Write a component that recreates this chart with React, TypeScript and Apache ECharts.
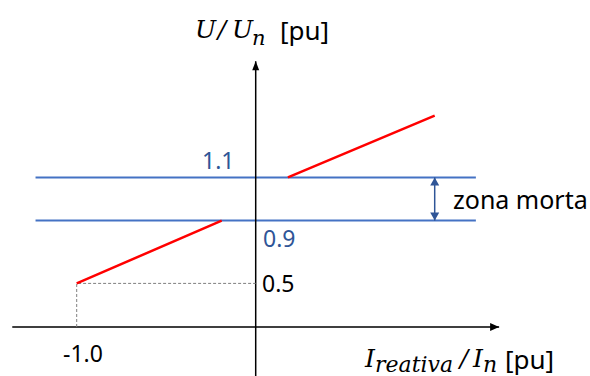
import React, { useEffect, useRef } from "react";
import * as echarts from "echarts";

// ---- data (per-unit values read from the schematic) ----
const lowBranchI = [-1.0, -0.19];
const lowBranchU = [0.5, 0.9];
const highBranchI = [0.18, 1.0];
const highBranchU = [1.1, 1.5];
const deadbandU = [0.9, 1.1];
const deadbandSpanI = [-1.23, 1.23];
const refPointI = -1.0;
const refPointU = 0.5;
const deadbandArrowI = 1.0;
const xAxisSpanI = [-1.36, 1.36];
const yAxisSpanU = [-0.6, 1.85];
const tickLabelsU = ["1.1", "0.9", "0.5"];
const tickLabelsI = ["-1.0"];
const bandLabel = "zona morta";

// schematic (not to scale) vertical axis: pu value -> drawing position
const uBreaks = [0, 0.5, 0.9, 1.1, 1.5];
const sBreaks = [0, 1.0, 2.44, 3.43, 4.85];
function sch(u: number): number {
  let k = 1;
  while (k < uBreaks.length - 1 && u > uBreaks[k]) k++;
  const u0 = uBreaks[k - 1], u1 = uBreaks[k];
  const s0 = sBreaks[k - 1], s1 = sBreaks[k];
  return s0 + ((u - u0) * (s1 - s0)) / (u1 - u0);
}

const BLUE = "#4472C4";
const DARKBLUE = "#2F5597";
const RED = "#FF0000";
const MATH = "DejaVu Serif";
const SANS = "Noto Sans";

export default function App() {
  const ref = useRef<HTMLDivElement>(null);
  useEffect(() => {
    if (!ref.current) return;
    const chart = echarts.init(ref.current, null, { renderer: "svg" });
    const line = (data: any[], color: string, width: number, z: number, type: any = "solid") => ({
      type: "line",
      data,
      symbol: "none",
      silent: true,
      z,
      connectNulls: false,
      lineStyle: { color, width, type },
      animation: false,
    });
    const option: any = {
      animation: false,
      backgroundColor: "#ffffff",
      grid: { left: 0, right: 0, top: 0, bottom: 0, containLabel: false },
      xAxis: { type: "value", min: -1.4285, max: 1.8676, show: false },
      yAxis: { type: "value", min: -1.124, max: 7.5, show: false },
      series: [
        line(
          [
            [deadbandSpanI[0], sch(deadbandU[0])],
            [deadbandSpanI[1], sch(deadbandU[0])],
            [null, null],
            [deadbandSpanI[0], sch(deadbandU[1])],
            [deadbandSpanI[1], sch(deadbandU[1])],
          ],
          BLUE,
          2,
          1
        ),
        line(
          [
            [xAxisSpanI[0], sch(0)],
            [xAxisSpanI[1], sch(0)],
            [null, null],
            [0, sch(yAxisSpanU[0])],
            [0, sch(yAxisSpanU[1])],
          ],
          "#000000",
          1.5,
          2
        ),
        line(
          [
            [refPointI, sch(0)],
            [refPointI, sch(refPointU)],
            [0, sch(refPointU)],
          ],
          "#7F7F7F",
          1,
          2,
          [3, 2]
        ),
        line(
          [
            [lowBranchI[0], sch(lowBranchU[0])],
            [lowBranchI[1], sch(lowBranchU[1])],
            [null, null],
            [highBranchI[0], sch(highBranchU[0])],
            [highBranchI[1], sch(highBranchU[1])],
          ],
          RED,
          2.5,
          3
        ),
        line(
          [
            [deadbandArrowI, sch(deadbandU[0])],
            [deadbandArrowI, sch(deadbandU[1])],
          ],
          DARKBLUE,
          1.5,
          4
        ),
      ],
    };
    chart.setOption(option);

    const px = (i: number, u: number) =>
      chart.convertToPixel({ xAxisIndex: 0, yAxisIndex: 0 }, [i, sch(u)]) as number[];
    const xTip = px(xAxisSpanI[1], 0);
    const yTip = px(0, yAxisSpanU[1]);
    const aLow = px(deadbandArrowI, deadbandU[0]);
    const aHigh = px(deadbandArrowI, deadbandU[1]);

    const head = (tip: number[], dir: "up" | "down" | "right", len: number, hw: number, color: string) => {
      const [x, y] = tip;
      let pts: number[][];
      if (dir === "up") pts = [[x, y], [x - hw, y + len], [x + hw, y + len]];
      else if (dir === "down") pts = [[x, y], [x - hw, y - len], [x + hw, y - len]];
      else pts = [[x, y], [x - len, y - hw], [x - len, y + hw]];
      return { type: "polygon", z: 10, silent: true, shape: { points: pts }, style: { fill: color } };
    };
    const txt = (
      text: string,
      x: number,
      y: number,
      size: number,
      family: string,
      color: string,
      italic = false,
      align = "left"
    ) => ({
      type: "text",
      x,
      y,
      z: 20,
      silent: true,
      style: {
        text,
        fill: color,
        fontSize: size,
        fontFamily: family,
        fontStyle: italic ? "italic" : "normal",
        align,
        verticalAlign: "middle",
        lineHeight: Math.round(size * 0.85),
      },
    });

    chart.setOption({
      graphic: [
        head(xTip, "right", 9, 4, "#000000"),
        head(yTip, "up", 9, 3.5, "#000000"),
        head(aHigh, "up", 8, 4.5, DARKBLUE),
        head(aLow, "down", 8, 4.5, DARKBLUE),
        // tick labels
        txt(tickLabelsU[0], 202, 160, 23, SANS, DARKBLUE),
        txt(tickLabelsU[1], 263, 237.5, 23, SANS, DARKBLUE),
        txt(tickLabelsU[2], 262, 283, 23, SANS, "#000000"),
        txt(tickLabelsI[0], 63, 353, 23, SANS, "#000000"),
        txt(bandLabel, 453, 198.7, 25, SANS, "#000000"),
        // y axis title U/U_n [pu]
        txt("U", 195, 29.3, 25, MATH, "#000000", true),
        txt("/", 222, 29.3, 25, MATH, "#000000", true, "center"),
        txt("U", 232, 29.3, 25, MATH, "#000000", true),
        txt("n", 252, 37.7, 21, MATH, "#000000", true),
        txt("[pu]", 280, 30.3, 26, SANS, "#000000"),
        // x axis title I_reativa/I_n [pu]
        txt("I", 365, 358.3, 25, MATH, "#000000", true),
        txt("reativa", 375, 364.8, 22, MATH, "#000000", true),
        txt("/", 464, 358.3, 25, MATH, "#000000", true, "center"),
        txt("I", 473, 358.3, 25, MATH, "#000000", true),
        txt("n", 483, 364.8, 22, MATH, "#000000", true),
        txt("[pu]", 505, 359.3, 26, SANS, "#000000"),
      ],
    });

    return () => chart.dispose();
  }, []);
  return (
    <div
      ref={ref}
      style={{ position: "fixed", left: 0, top: 0, width: 590, height: 376, background: "#ffffff" }}
    />
  );
}
